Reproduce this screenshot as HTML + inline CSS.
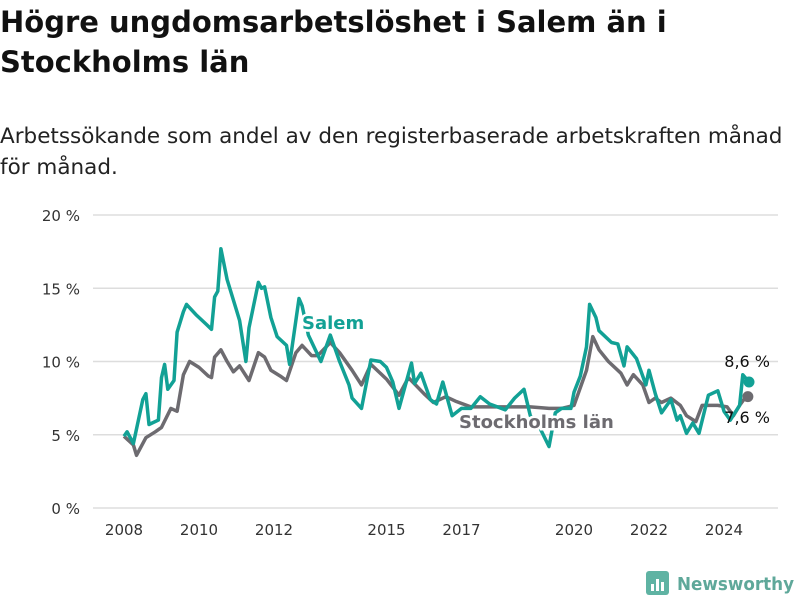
<!DOCTYPE html>
<html><head><meta charset="utf-8"><style>
body{margin:0;width:800px;height:600px;background:#fff;font-family:"DejaVu Sans","Liberation Sans",sans-serif;overflow:hidden;position:relative}
h1{position:absolute;left:0;top:2px;margin:0;font-size:29px;line-height:40px;font-weight:bold;color:#111;width:700px}
.sub{position:absolute;left:0;top:121px;margin:0;font-size:21.5px;line-height:31px;color:#222;width:795px}
svg{position:absolute;left:0;top:0}
</style></head><body>
<h1>Högre ungdomsarbetslöshet i Salem än i Stockholms län</h1>
<p class="sub">Arbetssökande som andel av den registerbaserade arbetskraften månad för månad.</p>
<svg id="chart" width="800" height="600"></svg>
<script>
const yTicks=[0,5,10,15,20];
const yTickLabels=["0 %","5 %","10 %","15 %","20 %"];
const xTickYears=[2008,2010,2012,2015,2017,2020,2022,2024];
const salemMonths=[0,1,3,6,7,8,11,12,13,14,16,17,19,20,23,26,28,29,30,31,33,36,37,39,40,43,44,45,47,49,52,53,56,57,59,63,66,69,72,73,76,79,82,84,86,88,92,93,95,98,100,102,105,108,111,114,117,122,125,128,130,133,136,138,140,142,143,144,146,148,149,151,152,156,158,160,161,164,167,168,170,172,175,177,178,180,182,184,187,190,192,194,197,198,200];
const salemValues=[4.9,5.2,4.4,7.4,7.8,5.7,6.0,8.9,9.8,8.1,8.7,12.0,13.4,13.9,13.2,12.6,12.2,14.4,14.8,17.7,15.6,13.5,12.8,10.0,12.3,15.4,15.0,15.1,13.0,11.7,11.1,9.8,14.3,13.8,11.8,10.0,11.8,10.0,8.4,7.5,6.8,10.1,10.0,9.6,8.6,6.8,9.9,8.5,9.2,7.4,7.1,8.6,6.3,6.8,6.8,7.6,7.1,6.7,7.5,8.1,6.3,5.5,4.2,6.5,6.8,6.8,6.8,7.9,9.0,11.0,13.9,13.0,12.1,11.3,11.2,9.7,11.0,10.2,8.4,9.4,7.8,6.5,7.4,6.0,6.3,5.1,5.8,5.1,7.7,8.0,6.6,6.0,7.0,9.1,8.6];
const sthlmMonths=[0,3,4,7,10,12,15,17,19,21,24,27,28,29,31,33,35,37,40,43,45,47,50,52,55,57,60,62,66,69,73,76,79,84,88,91,96,99,103,106,111,117,124,130,136,140,144,148,150,152,155,159,161,163,166,168,170,172,175,178,180,183,185,190,193,195,197,199];
const sthlmValues=[4.9,4.3,3.6,4.8,5.2,5.5,6.8,6.6,9.1,10.0,9.6,9.0,8.9,10.3,10.8,10.0,9.3,9.7,8.7,10.6,10.3,9.4,9.0,8.7,10.6,11.1,10.4,10.4,11.3,10.6,9.4,8.4,9.8,8.8,7.7,8.9,7.8,7.2,7.6,7.3,6.9,6.9,6.9,6.9,6.8,6.8,7.0,9.4,11.7,10.8,10.0,9.2,8.4,9.1,8.4,7.2,7.5,7.2,7.5,7.0,6.3,5.9,7.0,7.0,6.9,6.3,7.0,7.6];
const NS="http://www.w3.org/2000/svg";
const svg=document.getElementById('chart');
const xM=m=>124+m*3.125;
const xY=y=>124+(y-2008)*37.5;
const yV=v=>508-v*14.65;
function mk(t,a,txt){const e=document.createElementNS(NS,t);for(const k in a)e.setAttribute(k,a[k]);if(txt!==undefined)e.textContent=txt;svg.appendChild(e);return e;}
yTicks.forEach((v,i)=>{
 const g=mk('line',{x1:93,x2:778,y1:yV(v),y2:yV(v),stroke:'#ddd','stroke-width':1.5});
 
 
 const t=mk('text',{x:80,y:yV(v)+6,'text-anchor':'end','font-size':15,fill:'#333'},yTickLabels[i]);
 
 
});
xTickYears.forEach(y=>{
 const t=mk('text',{x:xY(y),y:535,'text-anchor':'middle','font-size':15,fill:'#333'},String(y));
 
 
});
function path(ms,vs){return ms.map((m,i)=>(i?'L':'M')+xM(m).toFixed(1)+','+yV(vs[i]).toFixed(1)).join('');}
const ls=mk('path',{d:path(sthlmMonths,sthlmValues),fill:'none',stroke:'#6d6b70','stroke-width':3.5,'stroke-linejoin':'round'});


const lsa=mk('path',{d:path(salemMonths,salemValues),fill:'none',stroke:'#12a195','stroke-width':3.5,'stroke-linejoin':'round'});


const ds=mk('circle',{cx:xM(sthlmMonths[sthlmMonths.length-1])+2,cy:yV(sthlmValues[sthlmValues.length-1]),r:5.5,fill:'#6d6b70'});


const dsa=mk('circle',{cx:xM(salemMonths[salemMonths.length-1]),cy:yV(salemValues[salemValues.length-1]),r:5.5,fill:'#12a195'});


const l1=mk('text',{x:302,y:329,'font-size':18,'font-weight':'bold',fill:'#12a195',stroke:'#fff','stroke-width':5,'paint-order':'stroke'},'Salem');


const l2=mk('text',{x:459,y:428,'font-size':18,'font-weight':'bold',fill:'#6d6b70',stroke:'#fff','stroke-width':5,'paint-order':'stroke'},'Stockholms län');


const v1=mk('text',{x:770,y:367,'text-anchor':'end','font-size':16,fill:'#111'},'8,6 %');


const v2=mk('text',{x:770,y:423,'text-anchor':'end','font-size':16,fill:'#111'},'7,6 %');


const ic=mk('rect',{x:646,y:571,width:23,height:24,rx:3,fill:'#5fb3a3'});


[[651,584,3,7],[656,579,3,12],[661,582,3,9]].forEach(b=>{const r=mk('rect',{x:b[0],y:b[1],width:b[2],height:b[3],fill:'#fff'});});
const lg=mk('text',{x:677,y:590,'font-size':18,'font-weight':'bold',fill:'#5fa89a',textLength:117,lengthAdjust:'spacingAndGlyphs'},'Newsworthy');


</script>
</body></html>
